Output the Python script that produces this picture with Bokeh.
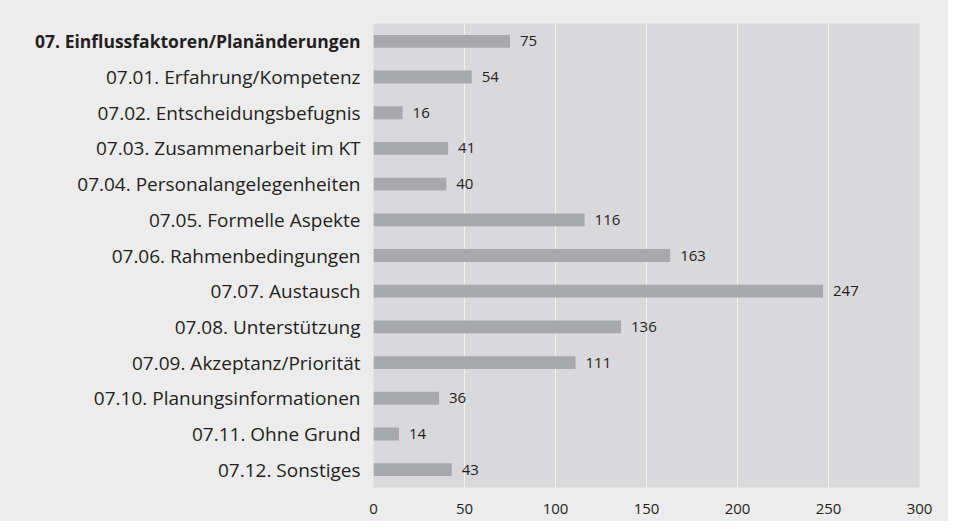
from bokeh.plotting import figure
from bokeh.layouts import row
from bokeh.models import ColumnDataSource, FactorRange, LabelSet, FixedTicker, Range1d
from bokeh.core.properties import value
from bokeh.embed import file_html
from bokeh.resources import INLINE

categories = [
    "07. Einflussfaktoren/Planänderungen",
    "07.01. Erfahrung/Kompetenz",
    "07.02. Entscheidungsbefugnis",
    "07.03. Zusammenarbeit im KT",
    "07.04. Personalangelegenheiten",
    "07.05. Formelle Aspekte",
    "07.06. Rahmenbedingungen",
    "07.07. Austausch",
    "07.08. Unterstützung",
    "07.09. Akzeptanz/Priorität",
    "07.10. Planungsinformationen",
    "07.11. Ohne Grund",
    "07.12. Sonstiges",
]
values = [75, 54, 16, 41, 40, 116, 163, 247, 136, 111, 36, 14, 43]
x_ticks = [0, 50, 100, 150, 200, 250, 300]

FONT = "Open Sans"
TEXT = "#231f20"
OUTER = "#ececec"

n = len(categories)
source = ColumnDataSource(dict(
    cat=categories,
    val=values,
    txt=[str(v) for v in values],
    anchor=[1] * n,
    style=["bold"] + ["normal"] * (n - 1),
    size=["17.5px"] + ["19px"] * (n - 1),
))

y_range = FactorRange(factors=categories[::-1], range_padding=0)

# left panel with the category labels
lab = figure(
    width=363, height=521, y_range=y_range, x_range=Range1d(0, 1),
    output_backend="svg", toolbar_location=None,
    x_axis_location=None, y_axis_location=None,
    frame_width=363, frame_height=464,
    min_border_left=0, min_border_right=0, min_border_top=23, min_border_bottom=34,
)
lab.background_fill_color = OUTER
lab.border_fill_color = OUTER
lab.outline_line_color = None
lab.grid.grid_line_color = None
lab.text(x="anchor", y="cat", text="cat", source=source, x_offset=-3,
         text_align="right", text_baseline="middle",
         text_font=value(FONT), text_font_size="size", text_color=TEXT,
         text_font_style="style")

# bar chart
p = figure(
    width=585, height=521,
    y_range=y_range,
    x_range=(0, 300),
    output_backend="svg", toolbar_location=None,
    y_axis_location=None,
    frame_width=546, frame_height=464,
    min_border_left=10, min_border_right=29, min_border_top=23, min_border_bottom=34,
)
p.background_fill_color = "#d9d9db"
p.border_fill_color = OUTER
p.outline_line_color = None

p.hbar(y="cat", left=0, right="val", height=0.36, source=source,
       fill_color="#a8a9ab", line_color=None)

p.ygrid.grid_line_color = None
p.xgrid.grid_line_color = "#f2f2f2"
p.xgrid.grid_line_width = 1

p.xaxis.ticker = FixedTicker(ticks=x_ticks)
p.xaxis.axis_line_color = None
p.xaxis.major_tick_line_color = None
p.xaxis.minor_tick_line_color = None
p.xaxis.major_label_text_font = FONT
p.xaxis.major_label_text_color = TEXT
p.xaxis.major_label_standoff = 10
p.xaxis.major_label_text_font_size = "15px"

val_labels = LabelSet(x="val", y="cat", text="txt", source=source,
                      x_offset=10, text_align="left", text_baseline="middle",
                      text_font=value(FONT), text_font_size="15px", text_color=TEXT)
p.add_layout(val_labels)

layout = row(lab, p, spacing=0)
layout.background = OUTER

open("out.html", "w").write(file_html(layout, INLINE))
